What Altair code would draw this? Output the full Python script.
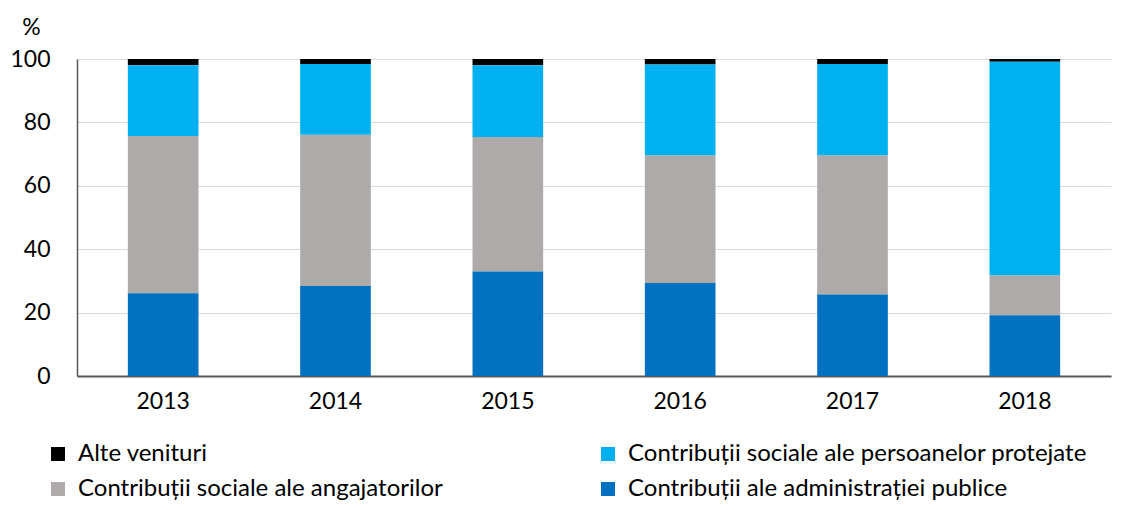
import altair as alt
import pandas as pd

years = ["2013", "2014", "2015", "2016", "2017", "2018"]
# legend order (filled column by column)
series = [
    "Alte venituri",
    "Contribuții sociale ale angajatorilor",
    "Contribuții sociale ale persoanelor protejate",
    "Contribuții ale administrației publice",
]
colors = ["#000000", "#AEAAAA", "#00B0F0", "#0070C0"]

admin = [26.1, 28.4, 33.0, 29.3, 25.7, 19.2]
angaj = [49.6, 47.7, 42.4, 40.3, 43.9, 12.6]
pers = [22.3, 22.3, 22.6, 28.7, 28.8, 67.3]
alte = [2.0, 1.6, 2.0, 1.7, 1.6, 0.9]

values = {series[0]: alte, series[1]: angaj, series[2]: pers, series[3]: admin}
stack_rank = {series[3]: 0, series[1]: 1, series[2]: 2, series[0]: 3}

rows = []
for s in series:
    for y, v in zip(years, values[s]):
        rows.append({"an": y, "serie": s, "valoare": v, "ord": stack_rank[s]})
df = pd.DataFrame(rows)

FONT = "Lato"

chart = (
    alt.Chart(df)
    .mark_bar()
    .encode(
        x=alt.X(
            "an:N",
            sort=years,
            scale=alt.Scale(paddingInner=0.59, paddingOuter=0.295),
            axis=alt.Axis(
                title=None,
                labelAngle=0,
                ticks=False,
                domainColor="#595959",
                domainWidth=2,
                labelFontSize=23,
                labelFont=FONT,
                labelColor="#000000",
                labelPadding=14,
                grid=False,
            ),
        ),
        y=alt.Y(
            "valoare:Q",
            stack="zero",
            scale=alt.Scale(domain=[0, 100], nice=False),
            axis=alt.Axis(
                title="%",
                titleAngle=0,
                titleX=-46,
                titleY=-32,
                titleAlign="center",
                titleBaseline="middle",
                titleFontSize=23,
                titleFont=FONT,
                titleFontWeight="normal",
                titleColor="#000000",
                values=[0, 20, 40, 60, 80, 100],
                ticks=False,
                domainColor="#595959",
                domainWidth=1.5,
                labelFontSize=23,
                labelFont=FONT,
                labelColor="#000000",
                labelPadding=27,
                gridColor="#D9D9D9",
                gridWidth=1,
            ),
        ),
        color=alt.Color(
            "serie:N",
            scale=alt.Scale(domain=series, range=colors),
            legend=alt.Legend(
                title=None,
                orient="none",
                legendX=-31,
                legendY=383,
                columns=2,
                columnPadding=153,
                rowPadding=11,
                symbolType="square",
                symbolSize=196,
                symbolStrokeWidth=0,
                labelFontSize=24,
                labelFont=FONT,
                labelColor="#000000",
                labelOffset=8,
                labelLimit=600,
            ),
        ),
        order=alt.Order("ord:Q"),
    )
    .properties(
        width=1034,
        height=317,
        autosize=alt.AutoSizeParams(type="none"),
        padding={"left": 69, "top": 51, "right": 12, "bottom": 129},
    )
    .configure_view(stroke=None)
)

chart.save("out.html", embed_options={"renderer": "svg", "actions": False})
